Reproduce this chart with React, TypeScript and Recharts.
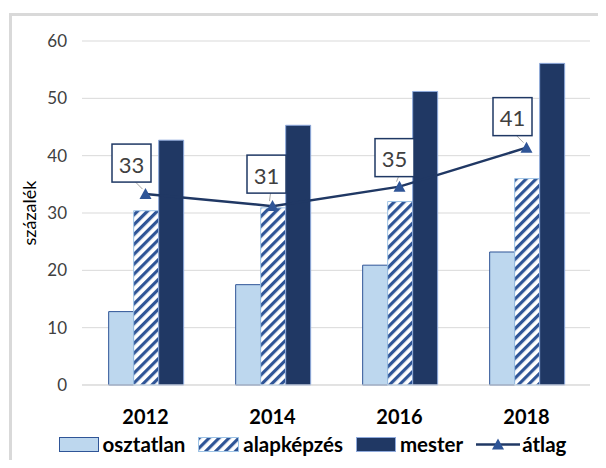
import { ComposedChart, Bar, Line, XAxis, YAxis, CartesianGrid, Legend, LabelList } from 'recharts';

const years = ['2012', '2014', '2016', '2018'];
const osztatlan = [12.8, 17.5, 20.9, 23.2];
const alapkepzes = [30.4, 30.9, 32.0, 36.0];
const mester = [42.7, 45.3, 51.2, 56.1];
const atlag = [33.3, 31.2, 34.6, 41.4];
const atlagLabels = ['33', '31', '35', '41'];
const yTicks = [0, 10, 20, 30, 40, 50, 60];

const data = years.map((year, i) => ({
  year,
  osztatlan: osztatlan[i],
  alapkepzes: alapkepzes[i],
  mester: mester[i],
  atlag: atlag[i],
}));

// where each data label box sits relative to its point
const labelShift = [
  [-14, -31],
  [-6, -32],
  [-5, -29],
  [-14, -31],
];

const FONT = 'Lato, "Liberation Sans", sans-serif';

const Hatch = ({ id }: { id: string }) => (
  <pattern id={id} patternUnits="userSpaceOnUse" width="7" height="7" patternTransform="rotate(45)">
    <rect width="7" height="7" fill="#ffffff" />
    <rect width="3.2" height="7" fill="#2F5597" />
  </pattern>
);

const Triangle = (props: any) => {
  const { cx, cy } = props;
  if (cx == null || cy == null) return null;
  return <path d={`M${cx - 6},${cy + 5} L${cx + 6},${cy + 5} L${cx},${cy - 6} Z`} fill="#2F5597" />;
};

const AvgLabel = (props: any) => {
  const { x, y, index } = props;
  const [dx, dy] = labelShift[index] || [-10, -31];
  const bx = x + dx;
  const by = y + dy;
  return (
    <g>
      <line x1={bx + 4} y1={by + 19} x2={x - 3} y2={y - 5} stroke="#A6A6A6" strokeWidth={1} />
      <rect x={bx - 19.5} y={by - 19} width={39} height={38} fill="#ffffff" stroke="#1F3864" strokeWidth={1.5} />
      <text x={bx} y={by + 1} textAnchor="middle" dominantBaseline="central" fontSize={22} fill="#404040" fontFamily={FONT}>
        {atlagLabels[index]}
      </text>
    </g>
  );
};

const LegendBox = () => {
  const item = { display: 'flex', alignItems: 'center' } as const;
  const text = { marginLeft: 4 };
  return (
    <div style={{ display: 'flex', justifyContent: 'center', alignItems: 'center', gap: 13, fontSize: 20.5, fontWeight: 'bold', color: '#000', fontFamily: FONT, paddingLeft: 19, lineHeight: '22px' }}>
      <div style={item}>
        <svg width={40} height={15}>
          <rect x={0.5} y={0.5} width={39} height={14} fill="#BDD7EE" stroke="#2F5597" />
        </svg>
        <span style={text}>osztatlan</span>
      </div>
      <div style={item}>
        <svg width={41} height={15}>
          <defs>
            <Hatch id="hatchLegend" />
          </defs>
          <rect x={0.5} y={0.5} width={40} height={14} fill="url(#hatchLegend)" stroke="#9DC3E6" />
        </svg>
        <span style={text}>alapképzés</span>
      </div>
      <div style={item}>
        <svg width={40} height={15}>
          <rect x={0.5} y={0.5} width={39} height={14} fill="#203864" stroke="#8FAADC" />
        </svg>
        <span style={text}>mester</span>
      </div>
      <div style={item}>
        <svg width={44} height={15}>
          <line x1={0} y1={7.5} x2={44} y2={7.5} stroke="#203864" strokeWidth={2.5} />
          <path d="M16,12.5 L28,12.5 L22,1.5 Z" fill="#2F5597" />
        </svg>
        <span style={{ marginLeft: 2 }}>átlag</span>
      </div>
    </div>
  );
};

export default function App() {
  return (
    <div style={{ position: 'relative', width: 606, height: 468, margin: -8, overflow: 'hidden', background: '#fff', fontFamily: FONT }}>
      <div style={{ position: 'absolute', left: 9, top: 13, width: 700, height: 600, borderLeft: '3px solid #D9D9D9', borderTop: '3px solid #D9D9D9' }} />
      <ComposedChart
        width={606}
        height={468}
        data={data}
        margin={{ top: 41, right: 16, bottom: 0, left: 0 }}
        barCategoryGap="21%"
        barGap={0}
        style={{ position: 'absolute', left: 0, top: 0 }}
      >
        <defs>
          <Hatch id="hatchBar" />
        </defs>
        <CartesianGrid vertical={false} stroke="#D9D9D9" />
        <XAxis
          dataKey="year"
          height={83}
          tickLine={false}
          tickSize={0}
          tickMargin={25}
          axisLine={{ stroke: '#D9D9D9' }}
          tick={{ fontSize: 20, fontWeight: 'bold', fill: '#000', fontFamily: FONT }}
        />
        <YAxis
          width={82}
          domain={[0, 60]}
          ticks={yTicks}
          tickLine={false}
          axisLine={false}
          tickSize={0}
          tickMargin={15}
          tick={{ fontSize: 17, fill: '#404040', fontFamily: FONT }}
          label={{
            content: () => (
              <text x={29} y={213} transform="rotate(-90 29 213)" textAnchor="middle" dominantBaseline="central" fontSize={18} fill="#000" fontFamily={FONT}>
                százalék
              </text>
            ),
          }}
        />
        <Legend verticalAlign="middle" wrapperStyle={{ top: 433, left: 0, width: 606 }} content={() => <LegendBox />} />
        <Bar dataKey="osztatlan" fill="#BDD7EE" stroke="#2F5597" strokeWidth={1} isAnimationActive={false} />
        <Bar dataKey="alapkepzes" fill="url(#hatchBar)" stroke="#9DC3E6" strokeWidth={1} isAnimationActive={false} />
        <Bar dataKey="mester" fill="#203864" stroke="#8FAADC" strokeWidth={1} isAnimationActive={false} />
        <Line
          dataKey="atlag"
          stroke="#203864"
          strokeWidth={2.5}
          dot={<Triangle />}
          activeDot={false}
          isAnimationActive={false}
        >
          <LabelList dataKey="atlag" content={<AvgLabel />} />
        </Line>
      </ComposedChart>
    </div>
  );
}
